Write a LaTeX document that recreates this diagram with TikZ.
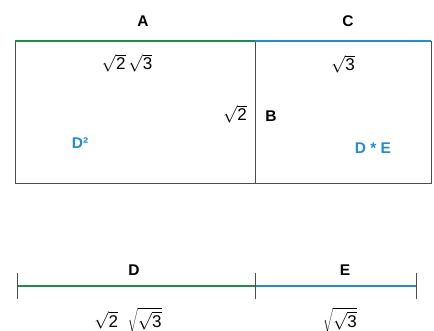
\documentclass[tikz,border=0pt]{standalone}
\usepackage{fontspec}
\setmainfont{Liberation Sans}
\usetikzlibrary{calc}
\definecolor{green}{RGB}{34,139,74}
\definecolor{blue}{RGB}{38,140,208}

\begin{document}
\begin{tikzpicture}[x=1pt,y=-1pt]
			\tikzset{line/.style={draw,line width=0.8pt,black!70}}
			\tikzset{seg/.style={draw,line width=2.2pt}}
			\tikzset{lbl/.style={inner sep=0pt,font=\fontsize{15.5}{18}\selectfont\bfseries}}
			\tikzset{val/.style={inner sep=0pt,font=\fontsize{17}{20}\selectfont}}

			\useasboundingbox (0,0) rectangle (434,330);

			% square and rectangle
			\coordinate (tl) at (15,41);
			\coordinate (tm) at (255,41);
			\coordinate (tr) at (431,41);
			\coordinate (bl) at (15,183);
			\coordinate (bm) at (255,183);
			\coordinate (br) at (431,183);

			\path[line] (tl) -- (bl) -- (br) -- (tr);
			\path[line] (tm) -- (bm);
			\path[seg, green] (tl) -- (tm);
			\path[seg, blue] (tm) -- (tr);

			\node[lbl] (A) at (143,21) {A};
			\node[lbl] (C) at (348,21) {C};
			\node[lbl] (B) at (271,116) {B};
			\node[val] (ab) at (127,63) {$\sqrt{\mathrm{2}}\,\sqrt{\mathrm{3}}$};
			\node[val] (c) at (343,64) {$\sqrt{\mathrm{3}}$};
			\node[val] (b) at (235,114) {$\sqrt{\mathrm{2}}$};
			\node[lbl, blue] (dd) at (80,143) {D²};
			\node[lbl, blue] (de) at (373,148) {D * E};

			% line segments
			\coordinate (l) at (17,286);
			\coordinate (m) at (255,286);
			\coordinate (r) at (416,286);

			\path[seg, green] (l) -- (m);
			\path[seg, blue] (m) -- (r);
			\foreach \p in {l,m,r}
				\path[line] ($(\p)+(0,-13)$) -- ($(\p)+(0,13)$);

			\node[lbl] (D) at (134,270) {D};
			\node[lbl] (E) at (345,270) {E};
			\node[val] (d) at (128,320) {$\sqrt{\mathrm{2}}\;\;\sqrt{\sqrt{\mathrm{3}}}$};
			\node[val] (e) at (340,320) {$\sqrt{\sqrt{\mathrm{3}}}$};
		\end{tikzpicture}
\end{document}
